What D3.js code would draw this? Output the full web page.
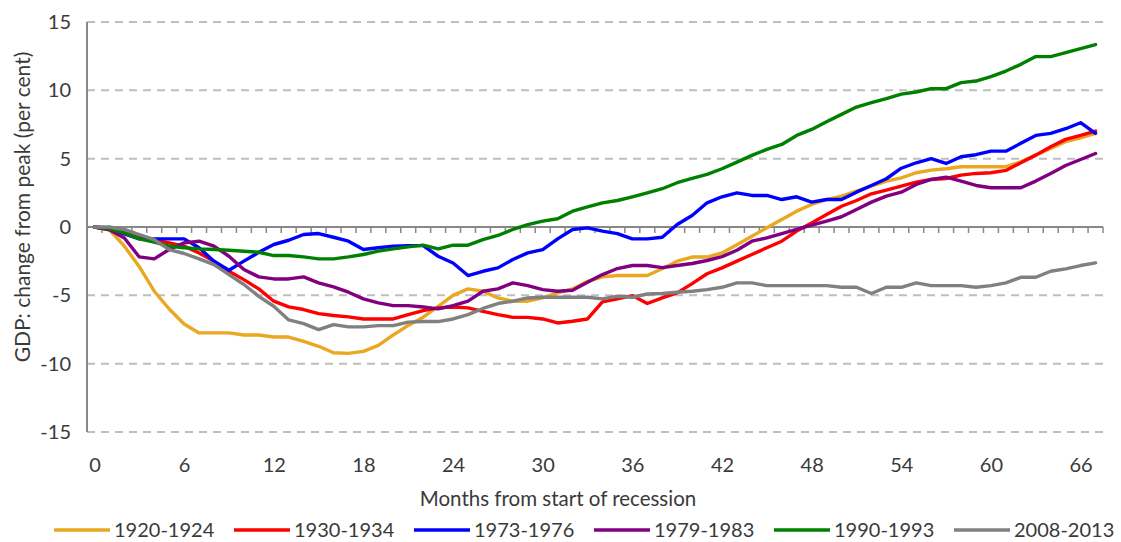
<!DOCTYPE html>
<html>
<head>
<meta charset="utf-8">
<script src="https://cdn.jsdelivr.net/npm/d3@7"></script>
<style>
  html, body { margin: 0; padding: 0; background: #fff; }
  svg { display: block; }
  text { font-family: Lato, "Open Sans", sans-serif; fill: #3a3a3a; }
</style>
</head>
<body>
<svg id="chart" width="1121" height="542"></svg>
<script>
// ---- Data ----
const months = d3.range(0, 68);
const xTickLabels = [0, 6, 12, 18, 24, 30, 36, 42, 48, 54, 60, 66];
const yTickValues = [-15, -10, -5, 0, 5, 10, 15];
const seriesNames = ["1920-1924", "1930-1934", "1973-1976", "1979-1983", "1990-1993", "2008-2013"];
const seriesColors = ["#E9A820", "#FF0000", "#0000FF", "#800080", "#008000", "#808080"];

const s1920 = [0,-0.2,-1.4,-2.9,-4.7,-6.0,-7.1,-7.75,-7.75,-7.75,
  -7.9,-7.9,-8.05,-8.05,-8.37,-8.73,-9.2,-9.25,-9.1,-8.66,
  -7.9,-7.2,-6.6,-5.8,-5.0,-4.53,-4.7,-5.19,-5.43,-5.43,
  -5.19,-4.82,-4.53,-3.97,-3.65,-3.55,-3.55,-3.55,-3.06,-2.5,
  -2.2,-2.2,-1.9,-1.3,-0.67,-0.06,0.55,1.16,1.65,2.0,
  2.26,2.62,2.99,3.36,3.6,3.97,4.16,4.26,4.41,4.41,
  4.41,4.41,4.77,5.26,5.75,6.24,6.53,6.85];
const s1930 = [0,-0.15,-0.43,-0.75,-0.95,-1.16,-1.4,-1.9,-2.5,-3.24,
  -3.85,-4.53,-5.43,-5.85,-6.04,-6.34,-6.48,-6.58,-6.73,-6.73,
  -6.73,-6.41,-6.12,-5.92,-5.85,-5.92,-6.17,-6.41,-6.61,-6.61,
  -6.73,-7.02,-6.9,-6.73,-5.48,-5.26,-5.02,-5.6,-5.19,-4.82,
  -4.14,-3.42,-2.99,-2.5,-2.01,-1.52,-1.04,-0.3,0.3,0.92,
  1.52,1.94,2.43,2.7,2.99,3.28,3.48,3.55,3.8,3.92,
  3.97,4.14,4.7,5.26,5.87,6.41,6.7,7.02];
const s1973 = [0,-0.1,-0.5,-0.87,-0.87,-0.87,-0.87,-1.52,-2.5,-3.16,
  -2.5,-1.85,-1.28,-0.97,-0.55,-0.48,-0.75,-1.04,-1.65,-1.52,
  -1.4,-1.36,-1.36,-2.14,-2.63,-3.55,-3.24,-2.99,-2.38,-1.89,
  -1.65,-0.87,-0.18,-0.06,-0.3,-0.48,-0.87,-0.87,-0.75,0.18,
  0.84,1.77,2.21,2.5,2.31,2.31,2.01,2.21,1.82,2.01,
  2.01,2.55,3.04,3.53,4.3,4.7,5.0,4.65,5.14,5.29,
  5.55,5.55,6.12,6.7,6.85,7.19,7.63,6.85];
const s1979 = [0,-0.2,-0.8,-2.19,-2.33,-1.65,-1.16,-1.04,-1.4,-2.14,
  -3.11,-3.65,-3.8,-3.8,-3.65,-4.09,-4.38,-4.77,-5.26,-5.55,
  -5.75,-5.75,-5.85,-5.99,-5.75,-5.43,-4.7,-4.53,-4.09,-4.29,
  -4.58,-4.7,-4.63,-4.04,-3.48,-3.04,-2.82,-2.82,-2.97,-2.82,
  -2.67,-2.45,-2.17,-1.7,-1.04,-0.79,-0.48,-0.18,0.13,0.43,
  0.75,1.28,1.82,2.26,2.55,3.11,3.48,3.65,3.36,3.04,
  2.87,2.87,2.87,3.36,3.92,4.5,4.94,5.38];
const s1990 = [0,-0.12,-0.43,-0.87,-1.11,-1.4,-1.52,-1.6,-1.65,-1.7,
  -1.77,-1.85,-2.09,-2.09,-2.19,-2.33,-2.33,-2.19,-2.01,-1.77,
  -1.6,-1.45,-1.33,-1.6,-1.33,-1.33,-0.92,-0.62,-0.18,0.18,
  0.43,0.6,1.16,1.48,1.77,1.94,2.21,2.5,2.8,3.24,
  3.56,3.85,4.26,4.75,5.24,5.68,6.04,6.7,7.14,7.7,
  8.24,8.78,9.1,9.39,9.72,9.88,10.12,10.12,10.56,10.68,
  11.0,11.41,11.9,12.47,12.47,12.76,13.05,13.35];
const s2008 = [0,0,-0.18,-0.55,-0.92,-1.65,-1.94,-2.33,-2.75,-3.48,
  -4.21,-5.07,-5.8,-6.8,-7.07,-7.51,-7.14,-7.31,-7.31,-7.22,
  -7.22,-6.96,-6.92,-6.92,-6.73,-6.41,-5.96,-5.6,-5.43,-5.19,
  -5.14,-5.14,-5.14,-5.14,-5.26,-5.07,-5.14,-4.9,-4.87,-4.77,
  -4.7,-4.58,-4.41,-4.09,-4.09,-4.29,-4.29,-4.29,-4.29,-4.29,
  -4.41,-4.41,-4.87,-4.41,-4.41,-4.09,-4.29,-4.29,-4.29,-4.41,
  -4.29,-4.09,-3.68,-3.68,-3.24,-3.06,-2.82,-2.63];
const seriesValues = [s1920, s1930, s1973, s1979, s1990, s2008];

// ---- Layout ----
const svg = d3.select("#chart");
const plot = { left: 87, right: 1103, top: 22, bottom: 432 };
const FONT = 20;

const xBand = d3.scaleBand().domain(months).range([plot.left, plot.right]).paddingInner(0).paddingOuter(0);
const xPoint = d3.scalePoint().domain(months).range([plot.left, plot.right]).padding(0.5);
const y = d3.scaleLinear().domain([-15, 15]).range([plot.bottom, plot.top]);

// Gridlines (dashed) for non-zero ticks
svg.append("g").selectAll("line")
  .data(yTickValues.filter(v => v !== 0))
  .join("line")
  .attr("x1", plot.left).attr("x2", plot.right)
  .attr("y1", d => y(d)).attr("y2", d => y(d))
  .attr("stroke", "#BEBEBE").attr("stroke-width", 2)
  .attr("stroke-dasharray", "8,6");

// Y axis labels (plain hyphen minus like the reference)
const yAxis = d3.axisLeft(y).tickValues(yTickValues).tickSize(0).tickPadding(16)
  .tickFormat(d => String(d));
const gy = svg.append("g").attr("transform", `translate(${plot.left},0)`).call(yAxis);
gy.select(".domain").remove();
gy.selectAll("text").style("font-size", FONT + "px").style("font-family", "Lato").attr("fill", "#3a3a3a");

// Y axis line
svg.append("line")
  .attr("x1", plot.left).attr("x2", plot.left)
  .attr("y1", plot.top).attr("y2", plot.bottom)
  .attr("stroke", "#888").attr("stroke-width", 2);

// X axis (at zero) with tick marks at category boundaries
const boundaries = months.map(m => xBand(m)).concat([plot.right]);
svg.append("line")
  .attr("x1", plot.left).attr("x2", plot.right)
  .attr("y1", y(0)).attr("y2", y(0))
  .attr("stroke", "#888").attr("stroke-width", 2);
svg.append("g").selectAll("line")
  .data(boundaries)
  .join("line")
  .attr("x1", d => d).attr("x2", d => d)
  .attr("y1", y(0)).attr("y2", y(0) + 6)
  .attr("stroke", "#888").attr("stroke-width", 1.5);

// X labels below plot
const xAxis = d3.axisBottom(xPoint).tickValues(xTickLabels).tickSize(0).tickPadding(26)
  .tickFormat(d => String(d));
const gx = svg.append("g").attr("transform", `translate(0,${plot.bottom})`).call(xAxis);
gx.select(".domain").remove();
gx.selectAll("text").style("font-size", FONT + "px").style("font-family", "Lato").attr("fill", "#3a3a3a");

// Axis titles
svg.append("text")
  .attr("transform", "translate(30,207) rotate(-90)")
  .attr("text-anchor", "middle")
  .style("font-size", "21px")
  .text("GDP: change from peak (per cent)");
svg.append("text")
  .attr("x", 558).attr("y", 506)
  .attr("text-anchor", "middle")
  .style("font-size", "20.5px")
  .text("Months from start of recession");

// Lines
const line = d3.line().x((d, i) => xPoint(months[i])).y(d => y(d));
svg.append("g").selectAll("path")
  .data(seriesValues)
  .join("path")
  .attr("d", d => line(d))
  .attr("fill", "none")
  .attr("stroke", (d, i) => seriesColors[i])
  .attr("stroke-width", 3.4)
  .attr("stroke-linejoin", "round")
  .attr("stroke-linecap", "round");

// Legend
const legend = svg.append("g");
seriesNames.forEach((name, i) => {
  const x0 = 54 + i * 180;
  legend.append("line")
    .attr("x1", x0).attr("x2", x0 + 56)
    .attr("y1", 530).attr("y2", 530)
    .attr("stroke", seriesColors[i]).attr("stroke-width", 3.4);
  legend.append("text")
    .attr("x", x0 + 60).attr("y", 537)
    .style("font-size", FONT + "px")
    .text(name);
});
</script>
</body>
</html>
